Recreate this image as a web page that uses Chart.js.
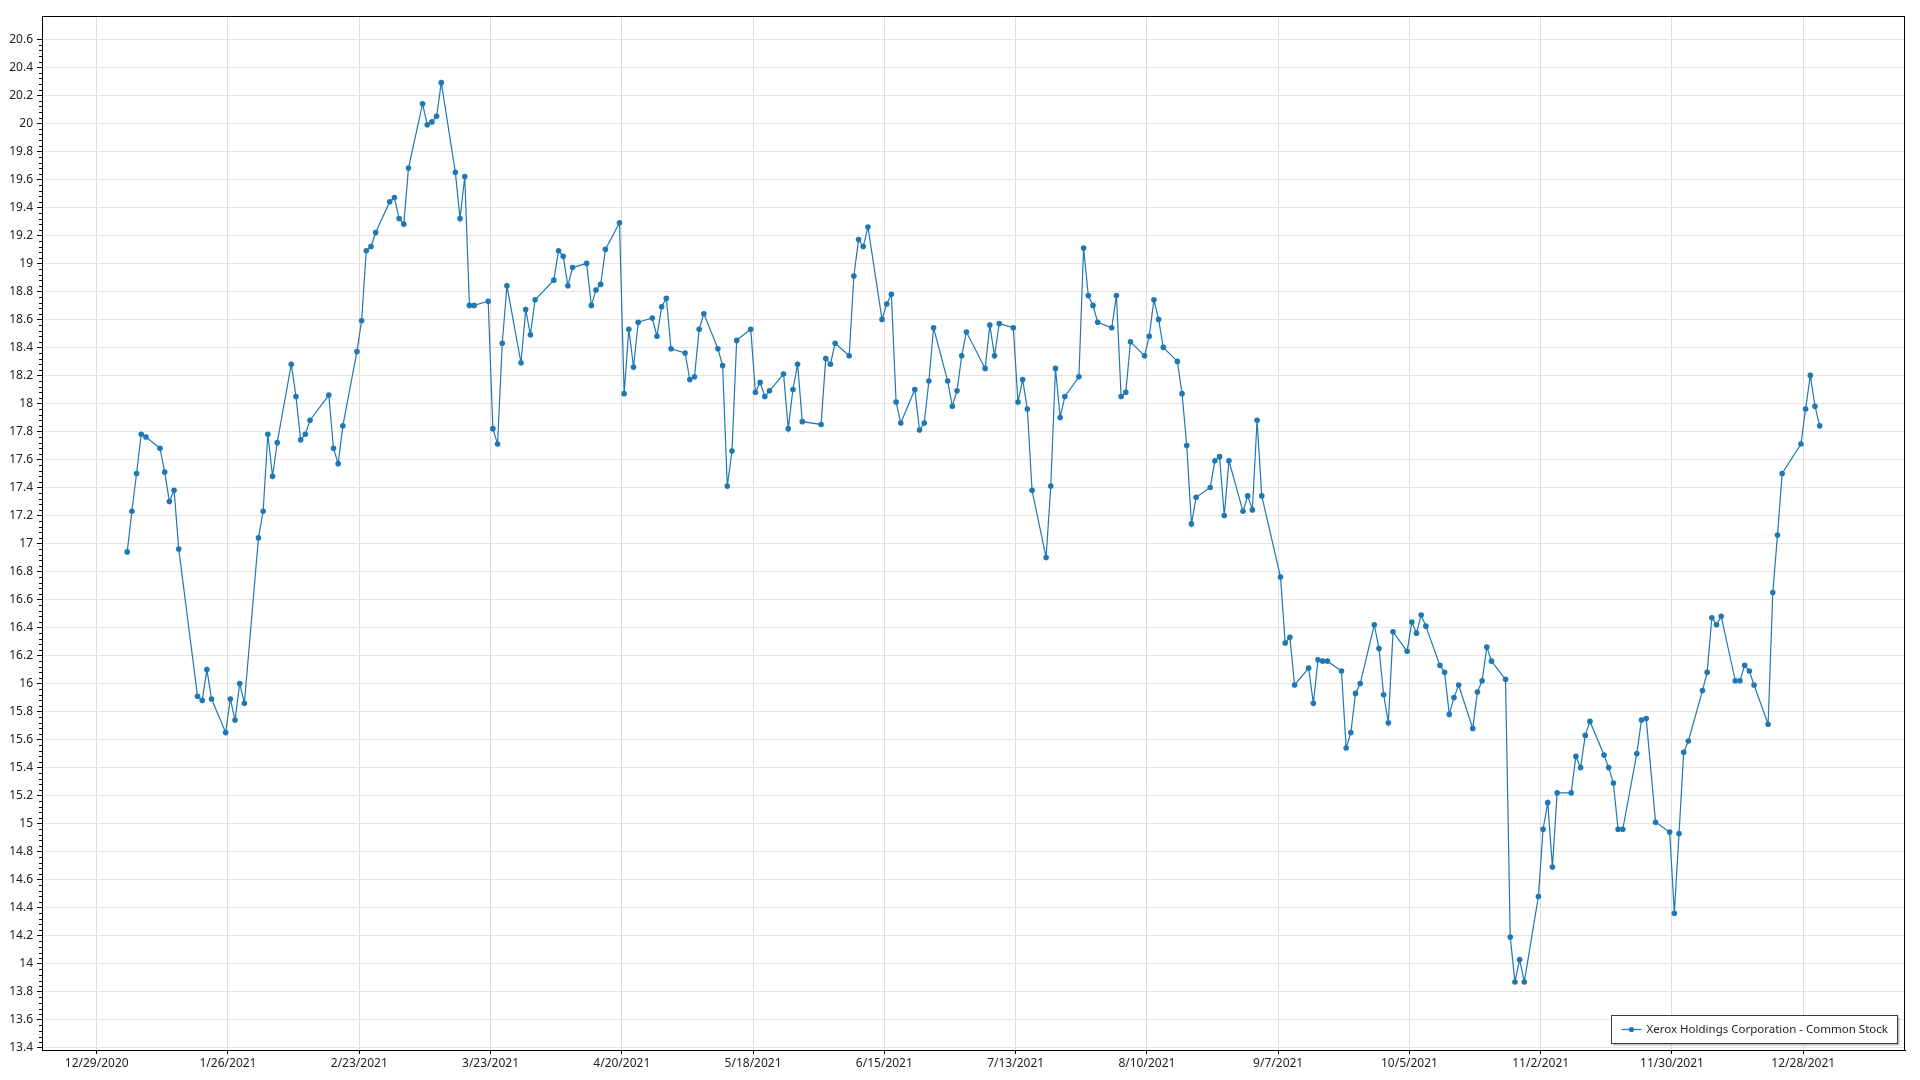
<!DOCTYPE html>
<html>
<head>
<meta charset="utf-8">
<title>Xerox Holdings Corporation - Common Stock</title>
<script src="https://cdn.jsdelivr.net/npm/chart.js@4/dist/chart.umd.min.js"></script>
<style>
  html, body { margin: 0; padding: 0; background: #fff; }
  #wrap { width: 1920px; height: 1080px; position: relative; }
</style>
</head>
<body>
<div id="wrap"><canvas id="chart" width="1920" height="1080"></canvas></div>
<script>
const seriesLabel = 'Xerox Holdings Corporation - Common Stock';

// trading days of 2021 (M/D)
const dates = [
  '1/4','1/5','1/6','1/7','1/8','1/11','1/12','1/13','1/14','1/15','1/19','1/20','1/21','1/22','1/25','1/26','1/27','1/28','1/29',
  '2/1','2/2','2/3','2/4','2/5','2/8','2/9','2/10','2/11','2/12','2/16','2/17','2/18','2/19','2/22','2/23','2/24','2/25','2/26',
  '3/1','3/2','3/3','3/4','3/5','3/8','3/9','3/10','3/11','3/12','3/15','3/16','3/17','3/18','3/19','3/22','3/23','3/24','3/25','3/26','3/29','3/30','3/31',
  '4/1','4/5','4/6','4/7','4/8','4/9','4/12','4/13','4/14','4/15','4/16','4/19','4/20','4/21','4/22','4/23','4/26','4/27','4/28','4/29','4/30',
  '5/3','5/4','5/5','5/6','5/7','5/10','5/11','5/12','5/13','5/14','5/17','5/18','5/19','5/20','5/21','5/24','5/25','5/26','5/27','5/28',
  '6/1','6/2','6/3','6/4','6/7','6/8','6/9','6/10','6/11','6/14','6/15','6/16','6/17','6/18','6/21','6/22','6/23','6/24','6/25','6/28','6/29','6/30',
  '7/1','7/2','7/6','7/7','7/8','7/9','7/12','7/13','7/14','7/15','7/16','7/19','7/20','7/21','7/22','7/23','7/26','7/27','7/28','7/29','7/30',
  '8/2','8/3','8/4','8/5','8/6','8/9','8/10','8/11','8/12','8/13','8/16','8/17','8/18','8/19','8/20','8/23','8/24','8/25','8/26','8/27','8/30','8/31',
  '9/1','9/2','9/3','9/7','9/8','9/9','9/10','9/13','9/14','9/15','9/16','9/17','9/20','9/21','9/22','9/23','9/24','9/27','9/28','9/29','9/30',
  '10/1','10/4','10/5','10/6','10/7','10/8','10/11','10/12','10/13','10/14','10/15','10/18','10/19','10/20','10/21','10/22','10/25','10/26','10/27','10/28','10/29',
  '11/1','11/2','11/3','11/4','11/5','11/8','11/9','11/10','11/11','11/12','11/15','11/16','11/17','11/18','11/19','11/22','11/23','11/24','11/26','11/29','11/30',
  '12/1','12/2','12/3','12/6','12/7','12/8','12/9','12/10','12/13','12/14','12/15','12/16','12/17','12/20','12/21','12/22','12/23','12/27','12/28','12/29','12/30','12/31'
];

const closes = [
  16.94,17.23,17.50,17.78,17.76,17.68,17.51,17.30,17.38,16.96,15.91,15.88,16.10,15.89,15.65,15.89,15.74,16.00,15.86,
  17.04,17.23,17.78,17.48,17.72,18.28,18.05,17.74,17.78,17.88,18.06,17.68,17.57,17.84,18.37,18.59,19.09,19.12,19.22,
  19.44,19.47,19.32,19.28,19.68,20.14,19.99,20.01,20.05,20.29,19.65,19.32,19.62,18.70,18.70,18.73,17.82,17.71,18.43,18.84,18.29,18.67,18.49,
  18.74,18.88,19.09,19.05,18.84,18.97,19.00,18.70,18.81,18.85,19.10,19.29,18.07,18.53,18.26,18.58,18.61,18.48,18.69,18.75,18.39,
  18.36,18.17,18.19,18.53,18.64,18.39,18.27,17.41,17.66,18.45,18.53,18.08,18.15,18.05,18.09,18.21,17.82,18.10,18.28,17.87,
  17.85,18.32,18.28,18.43,18.34,18.91,19.17,19.12,19.26,18.60,18.71,18.78,18.01,17.86,18.10,17.81,17.86,18.16,18.54,18.16,17.98,18.09,
  18.34,18.51,18.25,18.56,18.34,18.57,18.54,18.01,18.17,17.96,17.38,16.90,17.41,18.25,17.90,18.05,18.19,19.11,18.77,18.70,18.58,
  18.54,18.77,18.05,18.08,18.44,18.34,18.48,18.74,18.60,18.40,18.30,18.07,17.70,17.14,17.33,17.40,17.59,17.62,17.20,17.59,17.23,17.34,
  17.24,17.88,17.34,16.76,16.29,16.33,15.99,16.11,15.86,16.17,16.16,16.16,16.09,15.54,15.65,15.93,16.00,16.42,16.25,15.92,15.72,
  16.37,16.23,16.44,16.36,16.49,16.41,16.13,16.08,15.78,15.90,15.99,15.68,15.94,16.02,16.26,16.16,16.03,14.19,13.87,14.03,13.87,
  14.48,14.96,15.15,14.69,15.22,15.22,15.48,15.40,15.63,15.73,15.49,15.40,15.29,14.96,14.96,15.50,15.74,15.75,15.01,14.94,14.36,
  14.93,15.51,15.59,15.95,16.08,16.47,16.42,16.48,16.02,16.02,16.13,16.09,15.99,15.71,16.65,17.06,17.50,17.71,17.96,18.20,17.98,17.84
];

const xTickLabels = ['12/29/2020','1/26/2021','2/23/2021','3/23/2021','4/20/2021','5/18/2021','6/15/2021',
  '7/13/2021','8/10/2021','9/7/2021','10/5/2021','11/2/2021','11/30/2021','12/28/2021'];
const yTicks = [13.4,13.6,13.8,14,14.2,14.4,14.6,14.8,15,15.2,15.4,15.6,15.8,16,16.2,16.4,16.6,16.8,17,
  17.2,17.4,17.6,17.8,18,18.2,18.4,18.6,18.8,19,19.2,19.4,19.6,19.8,20,20.2,20.4,20.6];

const BLUE = '#1f77b4';
const FONT = '"Noto Sans", "Open Sans", sans-serif';
const DAY = 86400000;
const origin = Date.UTC(2020, 11, 29);

// days since 12/29/2020, from 'M/D' (2021) or 'M/D/YYYY'
function dayNum(s) {
  const p = s.split('/');
  const y = p[2] ? +p[2] : 2021;
  return (Date.UTC(y, +p[0] - 1, +p[1]) - origin) / DAY;
}

const xTicks = xTickLabels.map(dayNum);
// quotes are stamped at midday
const points = dates.map((d, i) => ({ x: dayNum(d) + 0.5, y: closes[i] }));

const framePlugin = {
  id: 'frame',
  afterDatasetsDraw(chart) {
    const { ctx, chartArea: a } = chart;
    ctx.save();
    ctx.strokeStyle = '#000';
    ctx.lineWidth = 1;
    ctx.strokeRect(Math.round(a.left) + 0.5, Math.round(a.top) + 0.5,
      Math.round(a.right - a.left) - 1, Math.round(a.bottom - a.top));
    // minor ticks on the value axis
    const y = chart.scales.y;
    ctx.beginPath();
    for (let i = 0; i < yTicks.length - 1; i++) {
      for (let k = 1; k < 5; k++) {
        const py = Math.round(y.getPixelForValue(yTicks[i] + k * 0.04)) + 0.5;
        ctx.moveTo(a.left - 3, py);
        ctx.lineTo(a.left, py);
      }
    }
    ctx.stroke();
    ctx.restore();
  }
};

const legendPlugin = {
  id: 'boxLegend',
  afterDraw(chart) {
    const { ctx, chartArea: a } = chart;
    const ds = chart.data.datasets[0];
    ctx.save();
    ctx.font = '11.5px ' + FONT;
    const tw = ctx.measureText(ds.label).width;
    const w = Math.round(tw + 45), h = 28;
    const x = Math.round(a.right - 8 - w) + 0.5, yy = Math.round(a.bottom - 7 - h) + 0.5;
    ctx.fillStyle = 'rgba(0,0,0,0.25)';
    ctx.fillRect(x + 2, yy + 2, w, h);
    ctx.fillStyle = '#fff';
    ctx.fillRect(x, yy, w, h);
    ctx.strokeStyle = '#3a3a3a';
    ctx.lineWidth = 1;
    ctx.strokeRect(x, yy, w, h);
    const cy = yy + h / 2;
    ctx.strokeStyle = ds.borderColor;
    ctx.lineWidth = 1.2;
    ctx.beginPath();
    ctx.moveTo(x + 10, cy);
    ctx.lineTo(x + 30, cy);
    ctx.stroke();
    ctx.fillStyle = ds.borderColor;
    ctx.beginPath();
    ctx.arc(x + 20, cy, 2.6, 0, Math.PI * 2);
    ctx.fill();
    ctx.fillStyle = '#222';
    ctx.textBaseline = 'middle';
    ctx.fillText(ds.label, x + 35, cy + 0.5);
    ctx.restore();
  }
};

new Chart(document.getElementById('chart'), {
  type: 'line',
  data: {
    datasets: [{
      label: seriesLabel,
      data: points,
      borderColor: BLUE,
      backgroundColor: BLUE,
      borderWidth: 1.2,
      pointRadius: 2.8,
      pointBorderWidth: 0,
      pointBackgroundColor: BLUE,
      tension: 0,
      fill: false
    }]
  },
  options: {
    responsive: false,
    animation: false,
    devicePixelRatio: 1,
    layout: { padding: { top: 16, right: 15, left: 0, bottom: 0 } },
    plugins: { legend: { display: false }, tooltip: { enabled: false } },
    scales: {
      x: {
        type: 'linear',
        min: -11.67,
        max: 385.7,
        afterBuildTicks: s => { s.ticks = xTicks.map(v => ({ value: v })); },
        afterFit: s => { s.height = 30; },
        grid: { color: '#dcdce0', tickColor: '#000', tickLength: 4 },
        border: { color: '#000' },
        ticks: {
          autoSkip: false, maxRotation: 0, padding: 2, color: '#222',
          font: { family: FONT, size: 12 },
          callback: v => xTickLabels[xTicks.indexOf(v)] || ''
        }
      },
      y: {
        min: 13.384,
        max: 20.766,
        afterBuildTicks: s => { s.ticks = yTicks.map(v => ({ value: v })); },
        afterFit: s => { s.width = 42; },
        grid: { color: '#e4e4e4', tickColor: '#000', tickLength: 5 },
        border: { color: '#000' },
        ticks: {
          autoSkip: false, padding: 4, color: '#222',
          font: { family: FONT, size: 12 },
          callback: v => String(Math.round(v * 10) / 10)
        }
      }
    }
  },
  plugins: [framePlugin, legendPlugin]
});
</script>
</body>
</html>
